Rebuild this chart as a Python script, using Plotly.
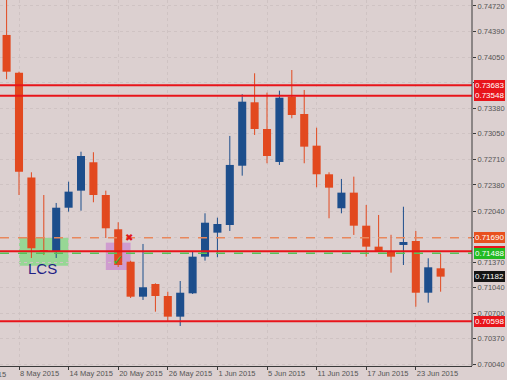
import plotly.graph_objects as go

# ---------------- data ----------------
dates = ["7 May", "8 May", "11 May", "12 May", "13 May", "14 May", "15 May", "18 May",
         "19 May", "20 May", "21 May", "22 May", "25 May", "26 May", "27 May", "28 May",
         "29 May", "1 Jun", "2 Jun", "3 Jun", "4 Jun", "5 Jun", "8 Jun", "9 Jun",
         "10 Jun", "11 Jun", "12 Jun", "15 Jun", "16 Jun", "17 Jun", "18 Jun", "19 Jun",
         "22 Jun", "23 Jun", "24 Jun", "25 Jun"]
opens = [0.74341, 0.73848, 0.72478, 0.71530, 0.71517, 0.72083, 0.72306, 0.72677,
         0.72249, 0.71801, 0.71377, 0.70920, 0.71086, 0.70929, 0.70659, 0.70964,
         0.71443, 0.71757, 0.71857, 0.72632, 0.73461, 0.73112, 0.72681, 0.73534,
         0.73308, 0.72894, 0.72520, 0.72076, 0.72280, 0.71848, 0.71574, 0.71508,
         0.71596, 0.71648, 0.70972, 0.71291]
highs = [0.74850, 0.73861, 0.72546, 0.72249, 0.72145, 0.72423, 0.72815, 0.72808,
         0.72306, 0.71893, 0.71390, 0.71609, 0.71095, 0.70985, 0.71125, 0.71508,
         0.72010, 0.71953, 0.73021, 0.73566, 0.73840, 0.73587, 0.73613, 0.73883,
         0.73622, 0.73129, 0.72546, 0.72459, 0.72489, 0.72119, 0.71988, 0.71729,
         0.72096, 0.71779, 0.71422, 0.71478]
lows = [0.73762, 0.72249, 0.71426, 0.71465, 0.71426, 0.72031, 0.72044, 0.72154,
        0.71687, 0.71308, 0.70903, 0.70877, 0.70724, 0.70593, 0.70537, 0.70955,
        0.71391, 0.71435, 0.71779, 0.72502, 0.73034, 0.72664, 0.72642, 0.73252,
        0.72664, 0.72350, 0.71945, 0.72010, 0.71727, 0.71443, 0.71504, 0.71234,
        0.71334, 0.70789, 0.70842, 0.70985]
closes = [0.73861, 0.72554, 0.71553, 0.71513, 0.72083, 0.72293, 0.72759, 0.72249,
          0.71814, 0.71334, 0.70920, 0.71043, 0.70929, 0.70659, 0.70972, 0.71443,
          0.71887, 0.71870, 0.72642, 0.73469, 0.73112, 0.72759, 0.73521, 0.73295,
          0.72881, 0.72520, 0.72345, 0.72280, 0.71848, 0.71574, 0.71517, 0.71443,
          0.71635, 0.70972, 0.71304, 0.71182]

date_tick_labels = ["8 May 2015", "14 May 2015", "20 May 2015", "26 May 2015", "1 Jun 2015",
                    "5 Jun 2015", "11 Jun 2015", "17 Jun 2015", "23 Jun 2015"]
date_tick_dates = ["8 May", "14 May", "20 May", "26 May", "1 Jun", "5 Jun", "11 Jun", "17 Jun", "23 Jun"]
price_ticks = [0.74720, 0.74390, 0.74050, 0.73720, 0.73380, 0.73050, 0.72710, 0.72380,
               0.72040, 0.71700, 0.71370, 0.71040, 0.70700, 0.70370, 0.70040]

red_levels = [0.73683, 0.73548, 0.71515, 0.70598]
orange_level = 0.71690
green_level = 0.71488
last_price = 0.71182

lcs_box = dict(x0="8 May", x1="14 May", y0=0.71325, y1=0.71690)
signal_box = dict(x0="19 May", x1="21 May", y0=0.71269, y1=0.71626)

# ---------------- styling ----------------
BG = "#dcd0d0"
BEAR = "#e2491f"
BULL = "#1d4e8c"
GRID = "#cfc3c3"
AXIS = "#3a3a3a"
TXT = "#555555"
FONT = "Liberation Sans, Arial, sans-serif"

idx = {d: i for i, d in enumerate(dates)}
xs = list(range(len(dates)))

fig = go.Figure()

# wicks
for color, cond in [(BEAR, lambda o, c: c < o), (BULL, lambda o, c: c >= o)]:
    wx, wy = [], []
    for i in xs:
        if cond(opens[i], closes[i]):
            wx += [i, i, None]
            wy += [lows[i], highs[i], None]
    fig.add_trace(go.Scatter(x=wx, y=wy, mode="lines", line=dict(color=color, width=1),
                             hoverinfo="skip"))

# bodies
base = [min(o, c) for o, c in zip(opens, closes)]
height = [max(abs(o - c), 0.00002) for o, c in zip(opens, closes)]
colors = [BEAR if c < o else BULL for o, c in zip(opens, closes)]
fig.add_trace(go.Bar(x=xs, y=height, base=base, width=0.65,
                     marker=dict(color=colors, line=dict(width=0)),
                     hovertext=dates))

shapes = []
shapes.append(dict(type="rect", layer="below", xref="x", yref="y",
                   x0=idx[lcs_box["x0"]], x1=idx[lcs_box["x1"]],
                   y0=lcs_box["y0"], y1=lcs_box["y1"],
                   fillcolor="#97d795", line=dict(width=0)))
shapes.append(dict(type="rect", layer="below", xref="x", yref="y",
                   x0=idx[signal_box["x0"]], x1=idx[signal_box["x1"]],
                   y0=signal_box["y0"], y1=signal_box["y1"],
                   fillcolor="#cf9ccf", line=dict(width=0)))
for lv in red_levels:
    shapes.append(dict(type="line", xref="paper", yref="y", x0=0, x1=1, y0=lv, y1=lv,
                       line=dict(color="#e8141a", width=2)))
shapes.append(dict(type="line", xref="paper", yref="y", x0=0, x1=1, y0=orange_level, y1=orange_level,
                   line=dict(color="#e8875c", width=1.5, dash="dash")))
shapes.append(dict(type="line", xref="paper", yref="y", x0=0, x1=1, y0=green_level, y1=green_level,
                   line=dict(color="#58c058", width=1.5, dash="dash")))
# right-hand price axis line
shapes.append(dict(type="line", xref="paper", yref="paper", x0=1, x1=1, y0=0, y1=1,
                   line=dict(color=AXIS, width=1)))

annotations = []
def price_label(val, bg, fg="white"):
    return dict(xref="paper", yref="y", x=1, y=val, xanchor="left", yanchor="middle",
                xshift=2, text=f"{val:.5f}", showarrow=False, bgcolor=bg, borderpad=1,
                borderwidth=0, font=dict(family=FONT, size=8, color=fg))

for lv in red_levels[:2]:
    annotations.append(price_label(lv, "#e8141a"))
annotations.append(price_label(orange_level, "#e8501e"))
annotations.append(price_label(red_levels[2], "#e8141a"))
annotations.append(price_label(green_level, "#22bb22"))
annotations.append(price_label(last_price, "#141414"))
annotations.append(price_label(red_levels[3], "#e8141a"))

annotations.append(dict(xref="x", yref="y", x=idx["11 May"] + 0.9, y=0.71295, text="LCS",
                        showarrow=False, font=dict(family=FONT, size=15, color="#1f1f86")))
annotations.append(dict(xref="x", yref="y", x=idx["20 May"], y=0.71395, text="✓",
                        showarrow=False, font=dict(family="DejaVu Sans", size=14, color="#3cb43c")))
annotations.append(dict(xref="x", yref="y", x=idx["20 May"] + 0.9, y=0.71694, text="✖",
                        showarrow=False, font=dict(family="DejaVu Sans", size=10, color="#e01818")))
annotations.append(dict(xref="paper", yref="paper", x=0, y=0, xanchor="right", yanchor="top",
                        xshift=8, yshift=-2, text="4 May 2015", showarrow=False,
                        font=dict(family=FONT, size=7.5, color=TXT)))

axis_common = dict(ticks="outside", ticklen=3, tickcolor=AXIS,
                   showgrid=True, gridcolor=GRID, griddash="dot",
                   gridwidth=1, zeroline=False, automargin=False, tickangle=0,
                   tickfont=dict(family=FONT, size=7.5, color=TXT))

fig.update_layout(
    template="none",
    width=507, height=380,
    margin=dict(l=0, r=35, t=0, b=14, pad=0),
    paper_bgcolor=BG, plot_bgcolor=BG,
    showlegend=False,
    shapes=shapes, annotations=annotations,
    font=dict(family=FONT, size=7.5, color=TXT),
    xaxis=dict(range=[-0.532, 37.53], tickvals=[idx[d] for d in date_tick_dates],
               ticktext=date_tick_labels, ticklabelposition="outside right",
               showline=True, linecolor=AXIS, linewidth=1, **axis_common),
    yaxis=dict(side="right", range=[0.70014, 0.74798], tickvals=price_ticks,
               ticktext=[f"{v:.5f}" for v in price_ticks], showline=False, **axis_common),
)

fig.write_html("out.html", config={"displayModeBar": False},
               post_script="document.body.style.margin='0';document.body.style.overflow='hidden';")
